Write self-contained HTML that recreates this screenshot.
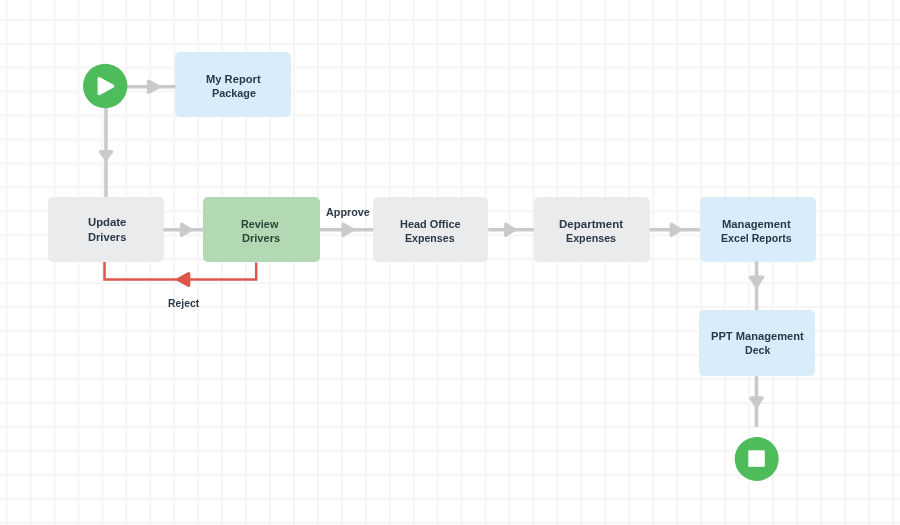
<!DOCTYPE html>
<html><head><meta charset="utf-8">
<style>
html,body{margin:0;padding:0;}
body{width:900px;height:525px;overflow:hidden;position:relative;background:#fff;}
.box{position:absolute;border-radius:5px;box-sizing:border-box;}
.gray{background:#eaebed;}
.green{background:#b2d9b3;}
.blue{background:#d8edf9;}
.t{position:absolute;transform-origin:0 0;filter:blur(0.3px);font-family:"Liberation Sans",sans-serif;font-weight:bold;font-size:11px;color:#2a3847;white-space:nowrap;line-height:14px;}
.t.g{color:#2c4436;}
svg{position:absolute;left:0;top:0;}
</style></head><body>
<svg width="900" height="525"><path d="M6.60 0V525M30.55 0V525M54.50 0V525M78.45 0V525M102.40 0V525M126.35 0V525M150.30 0V525M174.25 0V525M198.20 0V525M222.15 0V525M246.10 0V525M270.05 0V525M294.00 0V525M317.95 0V525M341.90 0V525M365.85 0V525M389.80 0V525M413.75 0V525M437.70 0V525M461.65 0V525M485.60 0V525M509.55 0V525M533.50 0V525M557.45 0V525M581.40 0V525M605.35 0V525M629.30 0V525M653.25 0V525M677.20 0V525M701.15 0V525M725.10 0V525M749.05 0V525M773.00 0V525M796.95 0V525M820.90 0V525M844.85 0V525M868.80 0V525M892.75 0V525M0 19.70H900M0 43.65H900M0 67.60H900M0 91.55H900M0 115.50H900M0 139.45H900M0 163.40H900M0 187.35H900M0 211.30H900M0 235.25H900M0 259.20H900M0 283.15H900M0 307.10H900M0 331.05H900M0 355.00H900M0 378.95H900M0 402.90H900M0 426.85H900M0 450.80H900M0 474.75H900M0 498.70H900M0 522.65H900" stroke="#f5f5f5" stroke-width="2" fill="none"/></svg>
<div class="box blue" style="left:175.4px;top:52px;width:116px;height:65px"></div>
<div class="box gray" style="left:48px;top:197px;width:115.8px;height:64.8px"></div>
<div class="box green" style="left:203.2px;top:197px;width:116.9px;height:65.3px"></div>
<div class="box gray" style="left:373.2px;top:197px;width:115.1px;height:65px"></div>
<div class="box gray" style="left:534px;top:197px;width:115.5px;height:65px"></div>
<div class="box blue" style="left:700px;top:197px;width:115.5px;height:64.5px"></div>
<div class="box blue" style="left:699px;top:310px;width:116px;height:65.7px"></div>
<svg width="900" height="525">
<g stroke="#cacaca" stroke-width="3.6" fill="none">
<line x1="127" y1="86.7" x2="175.5" y2="86.7"/>
<line x1="106" y1="108" x2="106" y2="197"/>
<line x1="163.5" y1="229.7" x2="203.2" y2="229.7"/>
<line x1="319.5" y1="229.7" x2="373.2" y2="229.7"/>
<line x1="488.3" y1="229.7" x2="534" y2="229.7"/>
<line x1="649.5" y1="229.7" x2="700" y2="229.7"/>
<line x1="756.6" y1="261.5" x2="756.6" y2="310.2"/>
<line x1="756.5" y1="375.7" x2="756.5" y2="427"/>
</g>
<g fill="#cacaca" stroke="#cacaca" stroke-width="3.4" stroke-linejoin="round">
<path d="M148.60 81.20L158.80 86.70L148.60 92.20Z"/>
<path d="M100.50 151.70L106.00 159.10L111.50 151.70Z"/>
<path d="M181.50 224.20L190.60 229.70L181.50 235.20Z"/>
<path d="M343.20 224.20L352.60 229.70L343.20 235.20Z"/>
<path d="M505.70 224.20L514.30 229.70L505.70 235.20Z"/>
<path d="M671.30 224.20L680.30 229.70L671.30 235.20Z"/>
<path d="M750.70 277.10L756.60 286.60L762.50 277.10Z"/>
<path d="M751.00 398.00L756.50 406.60L762.00 398.00Z"/>
</g>
<polyline points="104.5,262 104.5,279.5 256.2,279.5 256.2,262.4" stroke="#dc574a" stroke-width="2.5" fill="none"/>
<g fill="#dc574a" stroke="#dc574a" stroke-width="3.4" stroke-linejoin="round"><path d="M188.60 273.80L178.20 279.50L188.60 285.20Z"/></g>
<circle cx="105.2" cy="86" r="22.2" fill="#4fbc5b"/>
<path d="M99.2 78.6 L112.7 86.1 L99.2 93.5 Z" fill="#fff" stroke="#fff" stroke-width="3.2" stroke-linejoin="round"/>
<circle cx="756.7" cy="459" r="22" fill="#4fbc5b"/>
<rect x="748.3" y="450.3" width="16.5" height="16.5" fill="#fff"/>
</svg>
<div class="t" style="left:206.38px;top:72.00px;transform:scaleX(1.0152)">My Report</div>
<div class="t" style="left:211.72px;top:86.00px;transform:scaleX(0.9841)">Package</div>
<div class="t" style="left:88.07px;top:215.00px;transform:scaleX(1.0308)">Update</div>
<div class="t" style="left:87.68px;top:229.50px;transform:scaleX(1.0112)">Drivers</div>
<div class="t g" style="left:240.52px;top:217.00px;transform:scaleX(0.9839)">Review</div>
<div class="t g" style="left:242.19px;top:231.00px;transform:scaleX(1.0058)">Drivers</div>
<div class="t" style="left:325.51px;top:205.00px;transform:scaleX(0.9820)">Approve</div>
<div class="t" style="left:400.10px;top:217.00px;transform:scaleX(0.9917)">Head Office</div>
<div class="t" style="left:404.50px;top:231.00px;transform:scaleX(0.9649)">Expenses</div>
<div class="t" style="left:559.48px;top:217.00px;transform:scaleX(1.0476)">Department</div>
<div class="t" style="left:566.21px;top:231.00px;transform:scaleX(0.9748)">Expenses</div>
<div class="t" style="left:721.78px;top:217.00px;transform:scaleX(1.0210)">Management</div>
<div class="t" style="left:721.11px;top:231.00px;transform:scaleX(0.9645)">Excel Reports</div>
<div class="t" style="left:710.79px;top:329.00px;transform:scaleX(1.0121)">PPT Management</div>
<div class="t" style="left:745.48px;top:343.00px;transform:scaleX(0.9631)">Deck</div>
<div class="t" style="left:167.53px;top:295.90px;transform:scaleX(0.9427)">Reject</div>
</body></html>
